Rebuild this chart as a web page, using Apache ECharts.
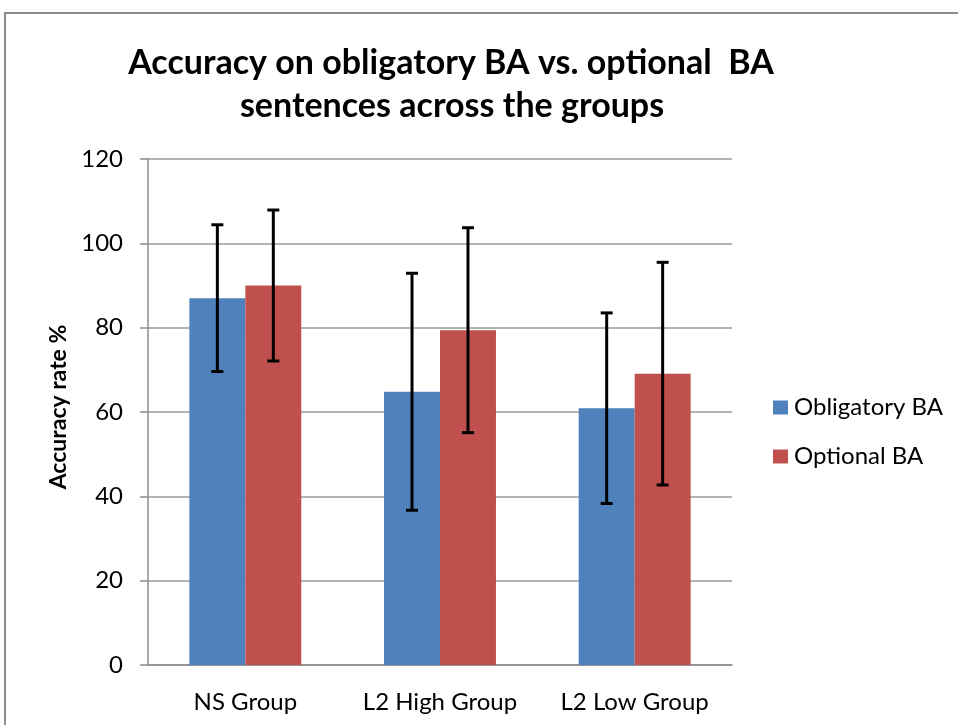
<!DOCTYPE html>
<html>
<head>
<meta charset="utf-8">
<script src="https://cdn.jsdelivr.net/npm/echarts@6/dist/echarts.min.js"></script>
<style>
html,body{margin:0;padding:0;background:#fff;}
#chart{width:958px;height:725px;}
</style>
</head>
<body>
<div id="chart"></div>
<script>
const categories = ['NS Group', 'L2 High Group', 'L2 Low Group'];
const seriesNames = ['Obligatory BA', 'Optional BA'];
const obligatory = [87.0, 64.8, 60.9];
const optional = [90.0, 79.4, 69.1];
const obligatorySD = [17.4, 28.1, 22.6];
const optionalSD = [17.9, 24.3, 26.4];
const yTicks = [0, 20, 40, 60, 80, 100, 120];

const FONT = 'Lato, "Open Sans", sans-serif';
const GAP = 0.425;
const colors = ['#4F81BD', '#C0504D'];

function errorSeries(name, values, sds, side) {
  return {
    type: 'custom',
    name: name + ' error',
    z: 10,
    silent: true,
    data: values.map((v, i) => [i, v, sds[i]]),
    renderItem: function (params, api) {
      const idx = api.value(0), v = api.value(1), sd = api.value(2);
      const band = api.size([1, 0])[0];
      const barW = band * (1 - GAP) / 2;
      const hi = api.coord([idx, v + sd]);
      const lo = api.coord([idx, v - sd]);
      const x = hi[0] + side * barW / 2;
      const cap = 6;
      const st = { stroke: '#000', lineWidth: 3 };
      return {
        type: 'group',
        children: [
          { type: 'line', shape: { x1: x, y1: hi[1], x2: x, y2: lo[1] }, style: st },
          { type: 'line', shape: { x1: x - cap, y1: hi[1], x2: x + cap, y2: hi[1] }, style: st },
          { type: 'line', shape: { x1: x - cap, y1: lo[1], x2: x + cap, y2: lo[1] }, style: st }
        ]
      };
    }
  };
}

const chart = echarts.init(document.getElementById('chart'), null, { renderer: 'canvas' });
chart.setOption({
  animation: false,
  backgroundColor: '#fff',
  color: colors,
  graphic: [
    { type: 'rect', shape: { x: 5, y: 13, width: 1000, height: 800 },
      style: { fill: 'none', stroke: '#8c8c8c', lineWidth: 2 }, z: -10 },
    { type: 'text', x: 451, y: 63,
      style: { text: 'Accuracy on obligatory BA vs. optional  BA', font: 'bold 34px ' + FONT,
        fill: '#000', align: 'center', verticalAlign: 'middle' } },
    { type: 'text', x: 452, y: 106,
      style: { text: 'sentences across the groups', font: 'bold 34px ' + FONT,
        fill: '#000', align: 'center', verticalAlign: 'middle' } }
  ],
  legend: {
    orient: 'vertical',
    left: 773,
    top: 393,
    padding: 0,
    itemWidth: 15,
    itemHeight: 14,
    itemGap: 20,
    icon: 'rect',
    data: seriesNames,
    textStyle: { fontFamily: FONT, fontSize: 24, color: '#000', lineHeight: 29, padding: [0, 0, 0, 1] }
  },
  grid: { left: 148, right: 226, top: 159, bottom: 60, containLabel: false },
  xAxis: {
    type: 'category',
    data: categories,
    axisLine: { show: true, lineStyle: { color: '#8c8c8c', width: 1.5 } },
    axisTick: { show: false },
    axisLabel: { interval: 0, hideOverlap: false, fontFamily: FONT, fontSize: 24, color: '#000', margin: 25 }
  },
  yAxis: {
    type: 'value',
    min: 0, max: 120, interval: 20,
    name: 'Accuracy rate %',
    nameLocation: 'middle',
    nameGap: 72,
    nameTextStyle: { fontFamily: FONT, fontSize: 23, fontWeight: 'bold', color: '#000', padding: [0, 0, 0, 10] },
    axisLine: { show: true, lineStyle: { color: '#8c8c8c', width: 1.5 } },
    axisTick: { show: true, length: 8, lineStyle: { color: '#8c8c8c', width: 1.5 } },
    axisLabel: { fontFamily: FONT, fontSize: 24, color: '#000', margin: 25,
      formatter: function (v) { return yTicks.indexOf(v) >= 0 ? String(v) : ''; } },
    splitLine: { show: true, lineStyle: { color: '#9a9a9a', width: 1.5 } }
  },
  series: [
    { type: 'bar', name: seriesNames[0], data: obligatory, barGap: '0%', barCategoryGap: (GAP * 100) + '%',
      itemStyle: { color: colors[0] } },
    { type: 'bar', name: seriesNames[1], data: optional, barGap: '0%', barCategoryGap: (GAP * 100) + '%',
      itemStyle: { color: colors[1] } },
    errorSeries(seriesNames[0], obligatory, obligatorySD, -1),
    errorSeries(seriesNames[1], optional, optionalSD, 1)
  ]
});
</script>
</body>
</html>
